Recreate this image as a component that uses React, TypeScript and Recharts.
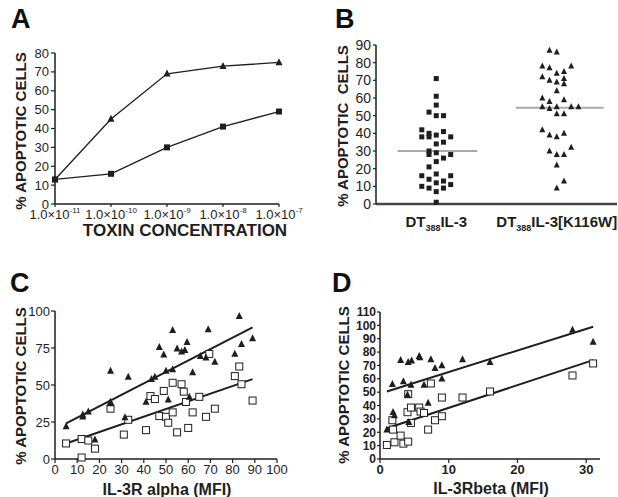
import {
  Line,
  LineChart,
  ReferenceLine,
  Scatter,
  ScatterChart,
  XAxis,
  YAxis,
} from "recharts";

const FONT = '"Liberation Sans", Arial, sans-serif';
const INK = "#1e1e1e";

// A: dose response, % apoptotic cells vs toxin concentration (10^x M)
const toxinExponents = [-11, -10, -9, -8, -7];
const mutantResponse = [13, 45, 69, 73, 75]; // triangles
const wildResponse = [13, 16, 30, 41, 49]; // squares
const ticksA = [0, 10, 20, 30, 40, 50, 60, 70, 80];

// B: per-patient apoptosis, value + column slot inside the swarm
const conjugates = ["DT388IL-3", "DT388IL-3[K116W]"];
const wildValues = [71, 61, 56, 52, 50, 50, 42, 40, 39, 41, 38, 38, 38, 34, 35, 30, 28, 29, 28, 26, 24, 21, 16, 17, 16, 14, 12, 13, 11, 10, 9, 9, 7, 1];
const wildSlots = [0, 0, 0, -1, 0, 1, -2, -1, 0, 1, -2, -1, 2, 0, 1, -1, -1, 0, 2, 1, 0, -1, -2, 0, 2, -1, 0, 1, 2, -2, -1, 1, 0, 0];
const mutantValues = [87, 86, 78, 77, 78, 74, 75, 72, 70, 69, 71, 68, 64, 60, 58, 59, 55, 54, 55, 55, 55, 51, 51, 42, 39, 38, 40, 30, 28, 28, 32, 22, 13, 9];
const mutantSlots = [-1, 0, -2, -1, 2, 0, 1, -2, -1, 0, 1, 1, 0, -2, -1, 1, -2, -1, 0, 2, 3, 0, 1, -2, -1, 0, 1, -1, 0, 1, 2, 0, 1, 0];
const medians = [30, 54.5];
const ticksB = [0, 10, 20, 30, 40, 50, 60, 70, 80, 90];

// C: apoptosis vs IL-3R alpha (MFI)
const alphaMutant = [
  [5, 22], [12.5, 28.5], [12.5, 30], [15, 32], [18, 13], [25, 59.5], [25, 38.5], [25, 37.5],
  [31.5, 28], [33, 55.5], [41, 38.5], [43.5, 54], [45, 55.5], [47, 75.5], [49, 70.5], [50, 59.5],
  [51, 40], [53, 60.5], [53, 87], [55, 74.5], [57, 72.5], [58.5, 73.5], [59.5, 79], [60.5, 42],
  [62, 58.5], [65.5, 69.5], [68, 68.5], [69, 87.5], [72, 65.5], [81, 71], [83, 96.5], [84, 77.5], [89, 81.5],
];
const alphaWild = [
  [5, 10.5], [12, 13.5], [12, 1], [15, 12.5], [18, 7], [25, 34], [33, 26.5], [31, 16.5],
  [41, 19.5], [43, 42.5], [45, 40.5], [47, 29], [49, 46], [50, 28.5], [51, 24.5], [53, 51.5],
  [53, 31.5], [55, 18], [57, 50.5], [58, 45.5], [59, 38.5], [60, 21], [62, 31.5], [65, 42],
  [68, 28.5], [69.5, 71], [72, 34], [81, 56], [83, 62.5], [84, 50.5], [89, 39.5],
];
const alphaFitMutant = [[5, 24], [89, 89]];
const alphaFitWild = [[5, 10.5], [89, 54]];
const ticksCx = [0, 10, 20, 30, 40, 50, 60, 70, 80, 90, 100];
const ticksCy = [0, 25, 50, 75, 100];

// D: apoptosis vs IL-3R beta (MFI)
const betaMutant = [
  [1, 22], [1.8, 56], [1.9, 35], [2.1, 32.5], [3, 74], [3.4, 58], [4, 48], [4.1, 72.5],
  [4.6, 73.5], [4.5, 55.5], [4.2, 27.5], [5.7, 77], [5.8, 76], [6.4, 55.5], [7, 42], [7.4, 74.5],
  [8, 68], [9, 70], [9, 60], [12, 74.5], [16, 72.5], [28, 96.5], [31, 87.5],
];
const betaWild = [
  [1, 10.5], [1.8, 29], [1.9, 22], [2.1, 12.5], [3, 17.5], [3.4, 11.5], [4, 35], [4.1, 48.5],
  [4.1, 13], [4.5, 38.5], [4.5, 27], [5.7, 38.5], [5.9, 35.5], [6.4, 34.5], [7, 22], [7.4, 56.5],
  [8, 29], [9, 46], [9, 32], [12, 46], [16, 50.5], [28, 62.5], [31, 71.5],
];
const betaFitMutant = [[1, 50.5], [31, 99]];
const betaFitWild = [[1, 23], [31, 74]];
const ticksDx = [0, 10, 20, 30];
const ticksDy = [0, 10, 20, 30, 40, 50, 60, 70, 80, 90, 100, 110];

const toPoints = (pairs: number[][]) => pairs.map(([x, y]) => ({ x, y }));

const SLOT = 0.06;
const swarm = (values: number[], slots: number[], group: number) =>
  values.map((y, i) => ({ x: group + slots[i] * SLOT, y }));

const doseData = toxinExponents.map((exp, i) => ({
  exp,
  mutant: mutantResponse[i],
  wild: wildResponse[i],
}));

function Tri({ cx, cy, s = 7 }: { cx?: number; cy?: number; s?: number }) {
  if (cx == null || cy == null) return null;
  return (
    <polygon
      points={`${cx},${cy - s * 0.6} ${cx - s / 2},${cy + s * 0.4} ${cx + s / 2},${cy + s * 0.4}`}
      fill={INK}
    />
  );
}

function Sq({ cx, cy, s = 6, open = false }: { cx?: number; cy?: number; s?: number; open?: boolean }) {
  if (cx == null || cy == null) return null;
  return (
    <rect
      x={cx - s / 2}
      y={cy - s / 2}
      width={s}
      height={s}
      fill={open ? "#fff" : INK}
      stroke={INK}
      strokeWidth={open ? 1 : 0}
    />
  );
}

const axisLine = { stroke: INK, strokeWidth: 1.5 };
const tickLine = { stroke: INK, strokeWidth: 1.2 };

function ExpTick({ x, y, payload }: any) {
  return (
    <text x={x} y={y} dy="0.8em" textAnchor="middle" fontSize={13} fill={INK} fontFamily={FONT}>
      1.0×10
      <tspan fontSize={8} dy={-6}>
        {payload.value}
      </tspan>
    </text>
  );
}

function ConjugateTick({ x, y, payload }: any) {
  const label = conjugates[Math.round(payload.value) - 1] ?? "";
  const m = label.match(/^(DT)(388)(.*)$/);
  if (!m) return null;
  return (
    <text x={x} y={y} dy="0.9em" textAnchor="middle" fontSize={15} fontWeight="bold" fill={INK} fontFamily={FONT}>
      {m[1]}
      <tspan fontSize={9} dy={4}>
        {m[2]}
      </tspan>
      <tspan dy={-4}>{m[3]}</tspan>
    </text>
  );
}

function VTitle({ x, y, text, size = 15 }: { x: number; y: number; text: string; size?: number }) {
  return (
    <text
      x={x}
      y={y}
      transform={`rotate(-90 ${x} ${y})`}
      textAnchor="middle"
      dominantBaseline="central"
      fontSize={size}
      fontWeight="bold"
      fill={INK}
      style={{ whiteSpace: "pre" }}
    >
      {text}
    </text>
  );
}

export default function App() {
  const tickA = { fontSize: 13, fill: INK, fontFamily: FONT };
  const tickB = { fontSize: 14, fill: INK, fontFamily: FONT };
  return (
    <div style={{ position: "absolute", left: 0, top: 0, width: 618, height: 497, background: "#fff", fontFamily: FONT }}>
      {/* A */}
      <div style={{ position: "absolute", left: 0, top: 0 }}>
        <LineChart width={309} height={245} data={doseData} margin={{ top: 53, right: 30, left: 0, bottom: 0 }}>
          <XAxis
            dataKey="exp"
            type="number"
            domain={[-11, -7]}
            ticks={toxinExponents}
            interval={0}
            height={41}
            tick={<ExpTick />}
            tickSize={3}
            tickMargin={2}
            axisLine={axisLine}
            tickLine={tickLine}
          />
          <YAxis
            type="number"
            domain={[0, 80]}
            ticks={ticksA}
            interval={0}
            width={55}
            tick={tickA}
            tickSize={4}
            tickMargin={2}
            axisLine={axisLine}
            tickLine={tickLine}
          />
          <Line
            dataKey="mutant"
            stroke={INK}
            strokeWidth={1.3}
            isAnimationActive={false}
            dot={(p: any) => <Tri key={`t${p.index}`} cx={p.cx} cy={p.cy} s={7} />}
          />
          <Line
            dataKey="wild"
            stroke={INK}
            strokeWidth={1.3}
            isAnimationActive={false}
            dot={(p: any) => <Sq key={`s${p.index}`} cx={p.cx} cy={p.cy} s={6} />}
          />
        </LineChart>
      </div>

      {/* B */}
      <div style={{ position: "absolute", left: 309, top: 0 }}>
        <ScatterChart width={309} height={245} margin={{ top: 45, right: 1, left: 0, bottom: 0 }}>
          <XAxis
            dataKey="x"
            type="number"
            domain={[0.5, 2.5]}
            ticks={[1, 2]}
            interval={0}
            height={41}
            tick={<ConjugateTick />}
            tickLine={false}
            tickMargin={3}
            axisLine={{ stroke: "#444", strokeWidth: 2.5 }}
          />
          <YAxis
            dataKey="y"
            type="number"
            domain={[0, 90]}
            ticks={ticksB}
            interval={0}
            width={67}
            tick={tickB}
            tickSize={3}
            tickMargin={2}
            axisLine={axisLine}
            tickLine={tickLine}
          />
          <ReferenceLine segment={[{ x: 0.68, y: medians[0] }, { x: 1.34, y: medians[0] }]} stroke="#aaa" strokeWidth={2} />
          <ReferenceLine segment={[{ x: 1.66, y: medians[1] }, { x: 2.39, y: medians[1] }]} stroke="#aaa" strokeWidth={2} />
          <Scatter
            data={swarm(wildValues, wildSlots, 1)}
            isAnimationActive={false}
            shape={(p: any) => <Sq cx={p.cx} cy={p.cy} s={5} />}
          />
          <Scatter
            data={swarm(mutantValues, mutantSlots, 2)}
            isAnimationActive={false}
            shape={(p: any) => <Tri cx={p.cx} cy={p.cy} s={6} />}
          />
        </ScatterChart>
      </div>

      {/* C */}
      <div style={{ position: "absolute", left: 0, top: 250 }}>
        <ScatterChart width={309} height={247} margin={{ top: 61, right: 32, left: 0, bottom: 0 }}>
          <XAxis
            dataKey="x"
            type="number"
            domain={[0, 100]}
            ticks={ticksCx}
            interval={0}
            height={38}
            tick={{ fontSize: 13, fill: INK, fontFamily: FONT }}
            tickSize={4}
            tickMargin={2}
            axisLine={axisLine}
            tickLine={tickLine}
          />
          <YAxis
            dataKey="y"
            type="number"
            domain={[0, 100]}
            ticks={ticksCy}
            interval={0}
            width={55}
            tick={{ fontSize: 13, fill: INK, fontFamily: FONT }}
            tickSize={4}
            tickMargin={1}
            axisLine={axisLine}
            tickLine={tickLine}
          />
          <ReferenceLine segment={toPoints(alphaFitMutant)} stroke={INK} strokeWidth={2} />
          <ReferenceLine segment={toPoints(alphaFitWild)} stroke={INK} strokeWidth={2} />
          <Scatter
            data={toPoints(alphaWild)}
            isAnimationActive={false}
            shape={(p: any) => <Sq cx={p.cx} cy={p.cy} s={7} open />}
          />
          <Scatter
            data={toPoints(alphaMutant)}
            isAnimationActive={false}
            shape={(p: any) => <Tri cx={p.cx} cy={p.cy} s={7} />}
          />
        </ScatterChart>
      </div>

      {/* D */}
      <div style={{ position: "absolute", left: 309, top: 250 }}>
        <ScatterChart width={309} height={247} margin={{ top: 62, right: 18, left: 0, bottom: 0 }}>
          <XAxis
            dataKey="x"
            type="number"
            domain={[0, 32]}
            ticks={ticksDx}
            interval={0}
            height={38}
            tick={{ fontSize: 13, fontWeight: "bold", fill: INK, fontFamily: FONT }}
            tickSize={4}
            tickMargin={2}
            axisLine={axisLine}
            tickLine={tickLine}
          />
          <YAxis
            dataKey="y"
            type="number"
            domain={[0, 110]}
            ticks={ticksDy}
            interval={0}
            width={71}
            tick={{ fontSize: 12, fontWeight: "bold", fill: INK, fontFamily: FONT }}
            tickSize={3}
            tickMargin={1}
            axisLine={axisLine}
            tickLine={tickLine}
          />
          <ReferenceLine segment={toPoints(betaFitMutant)} stroke={INK} strokeWidth={2} />
          <ReferenceLine segment={toPoints(betaFitWild)} stroke={INK} strokeWidth={2} />
          <Scatter
            data={toPoints(betaWild)}
            isAnimationActive={false}
            shape={(p: any) => <Sq cx={p.cx} cy={p.cy} s={7} open />}
          />
          <Scatter
            data={toPoints(betaMutant)}
            isAnimationActive={false}
            shape={(p: any) => <Tri cx={p.cx} cy={p.cy} s={7} />}
          />
        </ScatterChart>
      </div>

      {/* panel letters and axis titles */}
      <svg
        width={618}
        height={497}
        style={{ position: "absolute", left: 0, top: 0, pointerEvents: "none" }}
        fontFamily={FONT}
      >
        <g fontSize={27} fontWeight="bold" fill="#111">
          <text x={11} y={28}>A</text>
          <text x={335} y={28}>B</text>
          <text x={10} y={292}>C</text>
          <text x={332} y={292}>D</text>
        </g>
        <VTitle x={20} y={131} text="% APOPTOTIC CELLS" />
        <VTitle x={342} y={126} text="% APOPTOTIC  CELLS" />
        <VTitle x={20} y={386} text="% APOPTOTIC CELLS" />
        <VTitle x={343} y={385} text="% APOPTOTIC CELLS" />
        <g fontWeight="bold" fill={INK} textAnchor="middle">
          <text x={185} y={236} fontSize={17}>TOXIN CONCENTRATION</text>
          <text x={167} y={495} fontSize={16}>IL-3R alpha (MFI)</text>
          <text x={491} y={494} fontSize={16}>IL-3Rbeta (MFI)</text>
        </g>
      </svg>
    </div>
  );
}
